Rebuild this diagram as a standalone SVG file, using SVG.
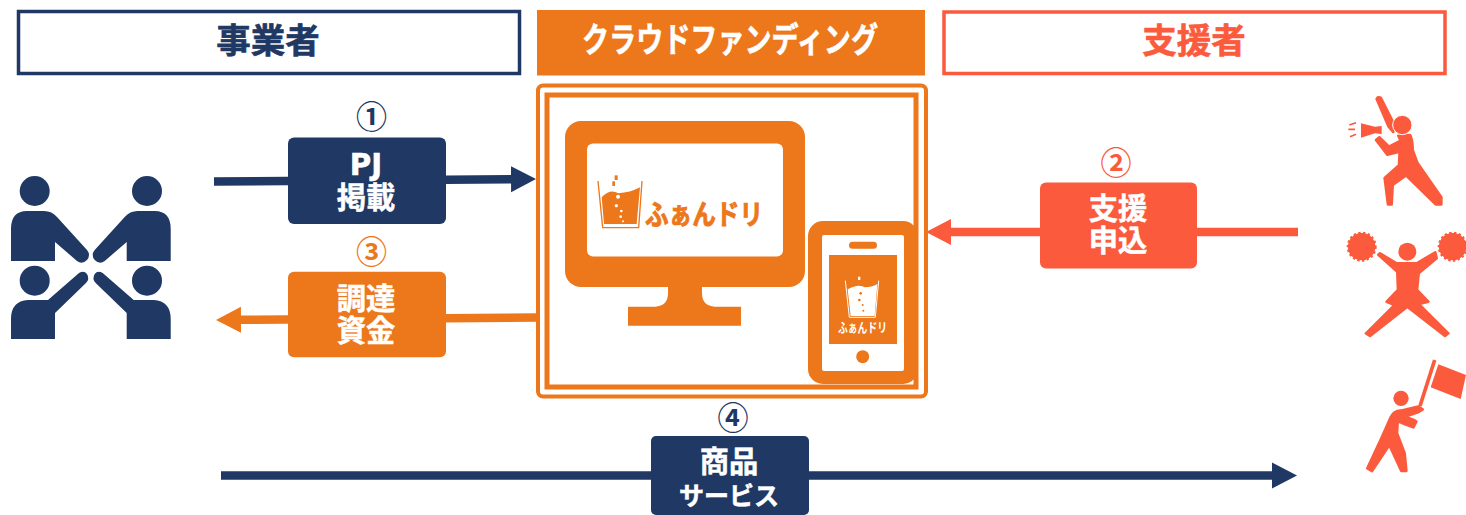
<svg xmlns="http://www.w3.org/2000/svg" width="1466" height="515" viewBox="0 0 1466 515">
<style>
text{font-family:"Noto Sans CJK JP","Noto Sans",sans-serif;font-weight:700;text-anchor:middle}
.w{font-family:"Liberation Sans","Noto Sans CJK JP",sans-serif;fill:#fff;font-size:29.300px;stroke:#fff;stroke-width:.5px}
.navy{fill:#1f3864}.org{fill:#ed771b}.cor{fill:#fb5a3c}
.num{font-size:31px}
.hd{font-size:34.500px;stroke-width:.6px}
.line{fill:none;stroke-width:8.500}
.fat{stroke:#fb5a3c;stroke-width:8;stroke-linejoin:round}
</style>
<defs>
<marker id="mN" markerUnits="userSpaceOnUse" markerWidth="26" markerHeight="28" refX="1" refY="14" orient="auto"><path d="M0,1 L25,14 L0,27Z" fill="#1f3864"/></marker>
<marker id="mO" markerUnits="userSpaceOnUse" markerWidth="26" markerHeight="28" refX="1" refY="14" orient="auto"><path d="M0,1 L25,14 L0,27Z" fill="#ed771b"/></marker>
<marker id="mC" markerUnits="userSpaceOnUse" markerWidth="26" markerHeight="28" refX="1" refY="14" orient="auto"><path d="M0,1 L25,14 L0,27Z" fill="#fb5a3c"/></marker>
<g id="person"><circle cx="34.700" cy="191" r="15"/><path d="M11,261V229Q11,211 27,211H44Q52,211 57,217L87,250Q91,255 87,260Q82,265 77,261L55,242V261Z"/></g>
<g id="person2"><circle cx="34.700" cy="280.700" r="15"/><path d="M11,339V319Q11,301 28,300H48L79,273Q84,270 87,274Q90,279 86,283L55,313V339Z"/></g>
</defs>
<g id="connectors">
<path class="line" stroke="#1f3864" marker-end="url(#mN)" d="M214,181.500L512,179.200"/>
<path class="line" stroke="#ed771b" marker-end="url(#mO)" d="M537,317.500L240,319.800"/>
<path class="line" stroke="#fb5a3c" marker-end="url(#mC)" d="M1298,232H950"/>
<path class="line" stroke="#1f3864" marker-end="url(#mN)" d="M221,475.500H1273"/>
</g>
<g id="header-jigyosha"><rect x="18.500" y="11.500" width="501" height="62" fill="#fff" stroke="#1f3864" stroke-width="3.500"/><text class="hd navy" stroke="#1f3864" x="268" y="53">事業者</text></g>
<g id="header-cf"><rect x="537" y="10" width="388" height="65.500" fill="#ed771b"/><text class="hd" fill="#fff" stroke="#fff" x="730" y="52" textLength="296" lengthAdjust="spacingAndGlyphs">クラウドファンディング</text></g>
<g id="header-shiensha"><rect x="944" y="12" width="501" height="61.500" fill="#fff" stroke="#fb5a3c" stroke-width="3.500"/><text class="hd cor" stroke="#fb5a3c" x="1194" y="53">支援者</text></g>
<g id="platform">
<rect x="538" y="85.500" width="388" height="311" rx="5" fill="#fff" stroke="#ed771b" stroke-width="4"/>
<rect x="547" y="95" width="369" height="292" fill="#fff" stroke="#ed771b" stroke-width="5"/>
<g id="monitor">
<rect x="565" y="121" width="240" height="166" rx="16" class="org"/>
<rect x="587" y="143.500" width="196" height="113" rx="6" fill="#fff"/>
<path class="org" d="M668,285V293Q668,306 655,306.700H628V325.700H741V306.700H715Q702,306 702,293V285Z"/>
<g transform="translate(530 80) scale(.33333)">
<path class="org" d="M215,352Q240,325 265,340Q300,338 330,322L320,432H222Z"/>
<path fill="none" stroke="#ed771b" stroke-width="4" d="M204,303L218,443H326L336,303"/>
<circle cx="264" cy="350" r="6" fill="#fff"/><circle cx="259" cy="377" r="5" fill="#fff"/><circle cx="274" cy="393" r="4" fill="#fff"/><circle cx="272" cy="410" r="4" fill="#fff"/><circle cx="279" cy="424" r="3" fill="#fff"/>
<rect x="254" y="286" width="9" height="14" class="org"/><rect x="247" y="304" width="8" height="14" class="org"/>
</g>
<text class="org" stroke="#ed771b" stroke-width=".9" x="704" y="225" font-size="28" textLength="118" lengthAdjust="spacingAndGlyphs">ふぁんドリ</text>
</g>
<g id="phone">
<rect x="808" y="221" width="110" height="163" rx="15" class="org"/>
<rect x="822" y="235" width="82" height="136" rx="2" fill="#fff"/>
<rect x="849" y="241.700" width="28" height="7" rx="3.500" class="org"/>
<rect x="829" y="255" width="68" height="89" class="org"/>
<circle cx="862.700" cy="356.700" r="6.500" class="org"/>
<g transform="translate(530 80) scale(.33333)">
<path fill="#fff" d="M953,628Q985,610 1005,622Q1025,622 1042,612L1034,708H962Z"/>
<path fill="none" stroke="#fff" stroke-width="3" d="M946,602L958,712H1036L1046,602"/>
<rect x="984" y="590" width="7" height="10" fill="#fff"/>
<circle cx="992" cy="640" r="4" class="org"/><circle cx="988" cy="660" r="4" class="org"/><circle cx="998" cy="675" r="3" class="org"/><circle cx="1000" cy="692" r="3" class="org"/>
</g>
<text fill="#fff" x="862.500" y="332" font-size="13" textLength="49" lengthAdjust="spacingAndGlyphs">ふぁんドリ</text>
</g>
</g>
<g id="step1"><text class="num navy" x="371.500" y="128">①</text><rect x="288" y="137.500" width="158" height="86.500" rx="6" class="navy"/><text class="w" x="366" y="175"><tspan x="366" y="175" style="font-family:'DejaVu Sans',sans-serif">PJ</tspan><tspan x="366" y="208">掲載</tspan></text></g>
<g id="step3"><text class="num org" x="371.500" y="263">③</text><rect x="288" y="271.700" width="158" height="85.500" rx="6" class="org"/><text class="w" x="366" y="308.500"><tspan x="366" y="308.500">調達</tspan><tspan x="366" y="341.300">資金</tspan></text></g>
<g id="step2"><text class="num cor" x="1116" y="174">②</text><rect x="1040" y="182.500" width="157" height="86" rx="6" class="cor"/><text class="w" x="1118" y="218.500"><tspan x="1118" y="218.500">支援</tspan><tspan x="1118" y="251.300">申込</tspan></text></g>
<g id="step4"><text class="num navy" x="733" y="429">④</text><rect x="651" y="436" width="158" height="79" rx="5" class="navy"/><text class="w" x="729" y="472"><tspan x="729" y="472">商品</tspan><tspan x="729" y="505" style="font-size:25px">サービス</tspan></text></g>
<g id="business" class="navy">
<use href="#person"/><use href="#person" transform="translate(181.700 0) scale(-1 1)"/>
<use href="#person2"/><use href="#person2" transform="translate(181.700 0) scale(-1 1)"/>
</g>
<g id="supporter-megaphone" class="cor" transform="translate(1330 90) scale(.33333)">
<path class="fat" d="M140,27Q144,19 152,23L191,100L190,126L176,110ZM205,137L240,135Q248,150 248,180L262,218L334,322V343H317L228,256L188,285L185,343H174L164,264L207,226L209,185L172,194L138,150L148,142L177,170L212,152Z"/>
<circle cx="217" cy="105" r="29" stroke="#fff" stroke-width="3"/>
<path d="M93,100L135,110L155,108V132L135,130L93,143Z"/>
<path fill="none" stroke="#fb5a3c" stroke-width="5" d="M58,105L78,98M55,118H75M60,140L78,133"/>
</g>
<g id="supporter-cheer" class="cor" transform="translate(1330 220) scale(.33333)">
<circle cx="95" cy="80" r="41" stroke="#fb5a3c" stroke-width="8" stroke-dasharray="7 7"/><circle cx="95" cy="80" r="40"/>
<circle cx="368" cy="80" r="41" stroke="#fb5a3c" stroke-width="8" stroke-dasharray="7 7"/><circle cx="368" cy="80" r="40"/>
<circle cx="232" cy="95" r="27"/>
<path class="fat" d="M145,104L150,100L200,130H260L316,97L320,115L266,160L261,210L295,245L266,252L355,340L345,348L232,260L120,348L108,340L194,255L170,245L204,210L202,155Z"/>
</g>
<g id="supporter-flag" class="cor" transform="translate(1330 350) scale(.33333)">
<path d="M325,43L408,75L392,147L302,112Z"/>
<path fill="none" stroke="#fb5a3c" stroke-width="11" d="M314,30L270,168"/>
<circle cx="213" cy="145" r="23"/>
<path class="fat" d="M112,355L154,265L182,202Q192,180 215,182L265,170L278,178L266,186L225,200L250,209L259,215L250,232L225,223L203,213L201,250L224,310L229,363H214L178,285L126,363Z"/>
</g>
</svg>
